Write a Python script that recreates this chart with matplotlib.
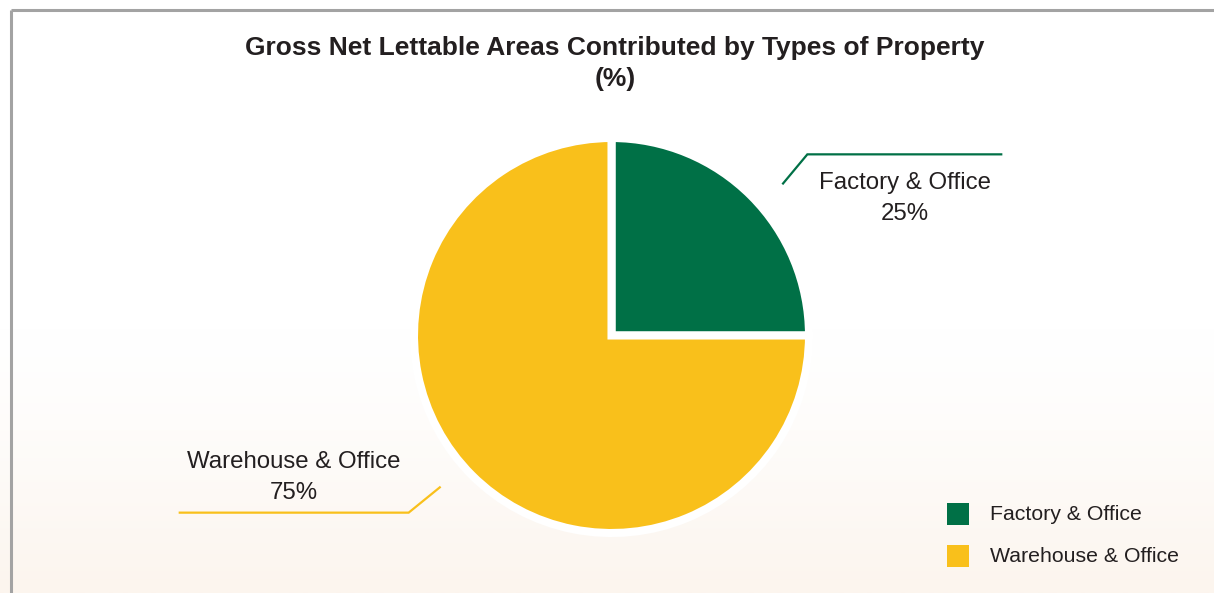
import numpy as np
import matplotlib
matplotlib.use("Agg")
import matplotlib.pyplot as plt
from matplotlib.patches import Rectangle
from matplotlib.colors import LinearSegmentedColormap

plt.rcParams['font.family'] = ['Liberation Sans', 'DejaVu Sans']

# Data
categories = ["Factory & Office", "Warehouse & Office"]
shares = [25, 75]
colors = ["#007046", "#F9C01B"]
title = "Gross Net Lettable Areas Contributed by Types of Property\n(%)"

W, H = 1214, 593
TEXT = "#231F20"
fig = plt.figure(figsize=(W / 100, H / 100), dpi=100)
ax = fig.add_axes([0, 0, 1, 1])

# Soft warm wash at the bottom of the panel
grad = np.clip((np.linspace(0, 1, 300) - 0.55) / 0.45, 0, 1) ** 1.3
cmap = LinearSegmentedColormap.from_list("wash", ["#FFFFFF", "#FCF5EE"])
ax.imshow(grad[:, None], extent=(0, W, 0, H), origin="upper", cmap=cmap,
          vmin=0, vmax=1, aspect="auto", zorder=0, interpolation="bilinear")

# Panel border (top and left)
ax.plot([11, W], [H - 10, H - 10], color="#A3A3A3", lw=2.2, solid_capstyle="butt", zorder=1)
ax.plot([11, 11], [H - 10, 0], color="#A3A3A3", lw=2.2, solid_capstyle="butt", zorder=1)

cx, cy, R = 611.5, H - 335.5, 197.5
wedges, _ = ax.pie(shares, colors=colors, startangle=90, counterclock=False,
                   radius=R, center=(cx, cy), frame=True,
                   wedgeprops=dict(edgecolor="white", linewidth=5.8, zorder=2))

# Leader lines with labels
label_layout = [
    # elbow offset, horizontal run, text offset from the run, vertical anchor
    dict(dx=25, dy=30, run=195, toff=-18, va="top"),
    dict(dx=-32, dy=-26, run=230, toff=9, va="bottom"),
]
for w, name, val, col, lay in zip(wedges, categories, shares, colors, label_layout):
    ang = np.deg2rad((w.theta1 + w.theta2) / 2 - 3.5)
    x0 = cx + 1.155 * R * np.cos(ang)
    y0 = cy + 1.155 * R * np.sin(ang)
    x1, y1 = x0 + lay["dx"], y0 + lay["dy"]
    x2 = x1 + np.sign(lay["dx"]) * lay["run"]
    ax.plot([x0, x1, x2], [y0, y1, y1], color=col, lw=1.6, zorder=3,
            solid_capstyle="butt", solid_joinstyle="miter")
    ax.text((x1 + x2) / 2, y1 + lay["toff"], f"{name}\n{val}%", ha="center",
            va=lay["va"], multialignment="center", fontsize=17.3, color=TEXT,
            linespacing=1.5, zorder=4)

ax.text(615, H - 36, title, ha="center", va="top", fontsize=19, fontweight="bold",
        color=TEXT, linespacing=1.38, zorder=4)

# Legend: colour squares with category names
for i, (name, col) in enumerate(zip(categories, colors)):
    yc = H - (514 + 42 * i)
    ax.add_patch(Rectangle((947, yc - 11), 22, 22, facecolor=col, edgecolor="none", zorder=4))
    ax.text(990, yc, name, ha="left", va="center", fontsize=15.3, color=TEXT, zorder=4)

ax.set_xlim(0, W)
ax.set_ylim(0, H)
ax.set_aspect("auto")
ax.axis("off")

fig.savefig("out.png", dpi=100)
